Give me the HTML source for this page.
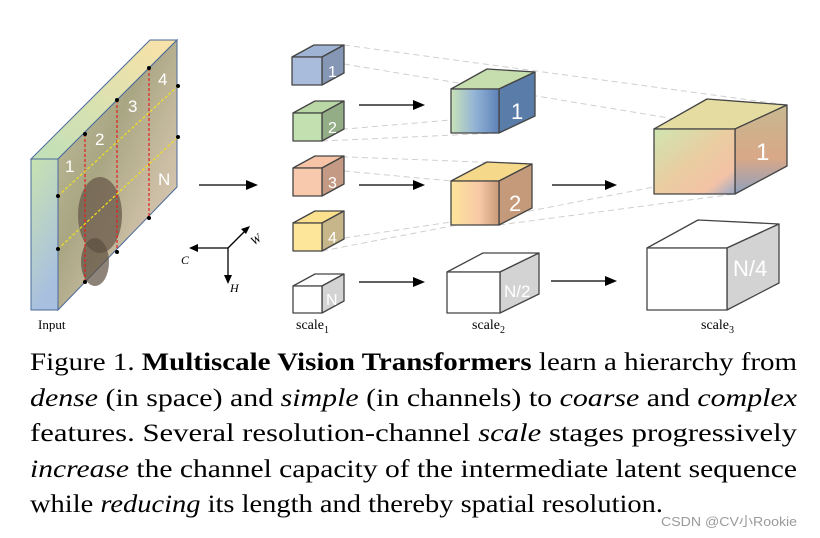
<!DOCTYPE html>
<html><head><meta charset="utf-8"><style>
html,body{margin:0;padding:0;background:#fff;width:820px;height:538px;overflow:hidden}
svg{display:block}
</style></head><body>
<svg width="820" height="538" viewBox="0 0 820 538" xmlns="http://www.w3.org/2000/svg">
<defs>
<linearGradient id="gL" x1="0" y1="0" x2="0.3" y2="1"><stop offset="0" stop-color="#c8e3b0"/><stop offset="1" stop-color="#a8bfe0"/></linearGradient>
<linearGradient id="gT" x1="0" y1="1" x2="1" y2="0"><stop offset="0" stop-color="#bfe0b8"/><stop offset="1" stop-color="#fbe2a8"/></linearGradient>
<linearGradient id="gImg" x1="0" y1="0" x2="1" y2="1"><stop offset="0" stop-color="#c4c2a0"/><stop offset="0.4" stop-color="#a9a683"/><stop offset="0.7" stop-color="#cdbfa6"/><stop offset="1" stop-color="#e0d2c0"/></linearGradient>
<linearGradient id="g1" x1="0" y1="0" x2="1" y2="0"><stop offset="0" stop-color="#c9e3b8"/><stop offset="0.5" stop-color="#92b3d6"/><stop offset="1" stop-color="#5e82b8"/></linearGradient>
<linearGradient id="g2" x1="0" y1="0" x2="1" y2="0"><stop offset="0" stop-color="#fde59a"/><stop offset="0.6" stop-color="#f7c8a6"/><stop offset="1" stop-color="#c89a78"/></linearGradient>
<linearGradient id="g3" x1="0" y1="0" x2="1" y2="1"><stop offset="0" stop-color="#cfe5b0"/><stop offset="0.5" stop-color="#eacca0"/><stop offset="0.8" stop-color="#f3c2a6"/><stop offset="1" stop-color="#98a8c8"/></linearGradient>
<linearGradient id="g3s" x1="0" y1="0" x2="0" y2="1"><stop offset="0" stop-color="#c8b890"/><stop offset="0.6" stop-color="#d8a888"/><stop offset="1" stop-color="#8fa0bd"/></linearGradient>
</defs>

<polygon points="31,159 150,40 177,40 58,159" fill="url(#gT)" stroke="#4a6a9a" stroke-width="1"/>
<polygon points="31,159 58,159 58,310 31,310" fill="url(#gL)" stroke="#4a6a9a" stroke-width="1"/>
<polygon points="58,159 177,40 177,187 58,310" fill="url(#gImg)" stroke="#4a6a9a" stroke-width="1"/>
<ellipse cx="100" cy="215" rx="22" ry="38" fill="#6a5a4a" opacity="0.75"/>
<ellipse cx="95" cy="262" rx="14" ry="24" fill="#5c4e40" opacity="0.7"/>
<g fill="#fff" font-family="Liberation Sans,sans-serif" font-size="17">
<text x="65" y="172">1</text><text x="95" y="145">2</text><text x="128" y="112">3</text><text x="158" y="85">4</text><text x="158" y="185">N</text></g>
<g stroke="#e02020" stroke-dasharray="3,2" stroke-width="1.2"><line x1="85" y1="134" x2="85" y2="282"/><line x1="117" y1="100" x2="117" y2="252"/><line x1="149" y1="68" x2="149" y2="218"/></g>
<g stroke="#f0e020" stroke-dasharray="3,2" stroke-width="1.2"><line x1="58" y1="196" x2="178" y2="86"/><line x1="58" y1="249" x2="178" y2="137"/></g>
<g fill="#000"><circle cx="85" cy="134" r="2"/><circle cx="85" cy="282" r="2"/><circle cx="117" cy="100" r="2"/><circle cx="117" cy="252" r="2"/><circle cx="149" cy="68" r="2"/><circle cx="149" cy="218" r="2"/><circle cx="58" cy="196" r="2"/><circle cx="58" cy="249" r="2"/><circle cx="178" cy="86" r="2"/><circle cx="178" cy="137" r="2"/></g>
<text x="38" y="329" font-family="Liberation Serif,serif" font-size="13">Input</text>

<g stroke="#000" stroke-width="1.3">
<line x1="199" y1="185" x2="248" y2="185"/>
<line x1="359" y1="105" x2="415" y2="105"/><line x1="359" y1="185" x2="415" y2="185"/><line x1="359" y1="282" x2="415" y2="282"/>
<line x1="552" y1="185" x2="607" y2="185"/><line x1="551" y1="281" x2="607" y2="281"/>
<line x1="228" y1="248" x2="196" y2="248"/><line x1="228" y1="248" x2="245" y2="231"/><line x1="228" y1="248" x2="228" y2="276"/>
</g>
<g fill="#000">
<polygon points="258,185 246,180 246,190"/>
<polygon points="425,105 413,100 413,110"/><polygon points="425,185 413,180 413,190"/><polygon points="425,282 413,277 413,287"/>
<polygon points="617,185 605,180 605,190"/><polygon points="617,281 605,276 605,286"/>
<polygon points="189,248 198,244 198,252"/><polygon points="250,226 241,229 246,234"/><polygon points="228,284 224,275 232,275"/>
</g>
<g font-family="Liberation Serif,serif" font-style="italic" font-size="12"><text x="181" y="264">C</text><text x="251" y="244" transform="rotate(-35 255 240)">W</text><text x="230" y="292">H</text></g>

<g stroke="#cfcfcf" stroke-dasharray="6,4" stroke-width="1" fill="none">
<line x1="344" y1="45" x2="787" y2="105"/><line x1="344" y1="64" x2="735" y2="129"/>
<line x1="322" y1="131" x2="451" y2="120"/><line x1="322" y1="141" x2="499" y2="133"/>
<line x1="322" y1="156" x2="532" y2="164"/><line x1="344" y1="171" x2="451" y2="181"/>
<line x1="344" y1="238" x2="451" y2="222"/><line x1="322" y1="251" x2="654" y2="187"/>
<line x1="499" y1="225" x2="735" y2="194"/>
</g>

<g stroke="#444" stroke-width="1.3" stroke-linejoin="round">
<polygon points="292,57 314,45 344,45 322,57" fill="#9fb3d4"/><polygon points="322,57 344,45 344,73 322,85" fill="#8597b5"/><rect x="292" y="57" width="30" height="28" fill="#a9bcdc"/>
<polygon points="293,113 315,101 344,101 322,113" fill="#b9d8a6"/><polygon points="322,113 344,101 344,129 322,141" fill="#93ad86"/><rect x="293" y="113" width="29" height="28" fill="#c3e0b0"/>
<polygon points="293,168 315,156 344,156 322,168" fill="#f6c3a6"/><polygon points="322,168 344,156 344,184 322,196" fill="#c49a84"/><rect x="293" y="168" width="29" height="28" fill="#f8c9ad"/>
<polygon points="293,223 315,211 344,211 322,223" fill="#fbe08e"/><polygon points="322,223 344,211 344,239 322,251" fill="#c7b68a"/><rect x="293" y="223" width="29" height="28" fill="#fde59a"/>
<polygon points="293,286 315,274 344,274 322,286" fill="#fff"/><polygon points="322,286 344,274 344,301 322,313" fill="#d3d3d3"/><rect x="293" y="286" width="29" height="27" fill="#fff"/>
<polygon points="451,89 487,69 535,72 499,89" fill="#c6ddae"/><polygon points="499,89 535,72 535,116 499,133" fill="#5a7ca8"/><rect x="451" y="89" width="48" height="44" fill="url(#g1)"/>
<polygon points="451,181 487,162 532,164 499,181" fill="#f6d88a"/><polygon points="499,181 532,164 532,208 499,225" fill="#c49a7a"/><rect x="451" y="181" width="48" height="44" fill="url(#g2)"/>
<polygon points="447,272 483,253 539,253 500,272" fill="#fff"/><polygon points="500,272 539,253 539,294 500,313" fill="#d3d3d3"/><rect x="447" y="272" width="53" height="41" fill="#fff"/>
<polygon points="654,129 707,99 787,105 735,129" fill="#e4dca0"/><polygon points="735,129 787,105 787,166 735,194" fill="url(#g3s)"/><rect x="654" y="129" width="81" height="65" fill="url(#g3)"/>
<polygon points="647,248 698,220 779,224 727,248" fill="#fff"/><polygon points="727,248 779,224 779,283 727,310" fill="#d3d3d3"/><rect x="647" y="248" width="80" height="62" fill="#fff"/>
</g>
<g fill="#fff" font-family="Liberation Sans,sans-serif">
<text x="328" y="77" font-size="16">1</text><text x="328" y="133" font-size="16">2</text><text x="328" y="188" font-size="16">3</text><text x="328" y="243" font-size="16">4</text><text x="326" y="305" font-size="16">N</text>
<text x="511" y="119" font-size="22">1</text><text x="509" y="211" font-size="22">2</text><text x="504" y="297" font-size="17">N/2</text>
<text x="756" y="160" font-size="24">1</text><text x="733" y="276" font-size="22">N/4</text>
</g>
<g font-family="Liberation Serif,serif" font-size="14">
<text x="296" y="329">scale<tspan font-size="10" dy="4">1</tspan></text>
<text x="472" y="329">scale<tspan font-size="10" dy="4">2</tspan></text>
<text x="701" y="329">scale<tspan font-size="10" dy="4">3</tspan></text>
</g>

<g font-family="Liberation Serif,serif" font-size="25" fill="#000">
<text x="30" y="370" textLength="767" lengthAdjust="spacingAndGlyphs">Figure 1. <tspan font-weight="bold">Multiscale Vision Transformers</tspan> learn a hierarchy from</text>
<text x="30" y="406" textLength="767" lengthAdjust="spacingAndGlyphs"><tspan font-style="italic">dense</tspan> (in space) and <tspan font-style="italic">simple</tspan> (in channels) to <tspan font-style="italic">coarse</tspan> and <tspan font-style="italic">complex</tspan></text>
<text x="30" y="441" textLength="767" lengthAdjust="spacingAndGlyphs">features.  Several resolution-channel <tspan font-style="italic">scale</tspan> stages progressively</text>
<text x="30" y="477" textLength="767" lengthAdjust="spacingAndGlyphs"><tspan font-style="italic">increase</tspan> the channel capacity of the intermediate latent sequence</text>
<text x="30" y="512" textLength="633" lengthAdjust="spacingAndGlyphs">while <tspan font-style="italic">reducing</tspan> its length and thereby spatial resolution.</text>
</g>
<text x="661" y="526" font-family="Liberation Sans,'Noto Sans CJK SC',sans-serif" font-size="13" fill="#9a9a9a" textLength="136" lengthAdjust="spacingAndGlyphs">CSDN @CV小Rookie</text>
</svg>
</body></html>
